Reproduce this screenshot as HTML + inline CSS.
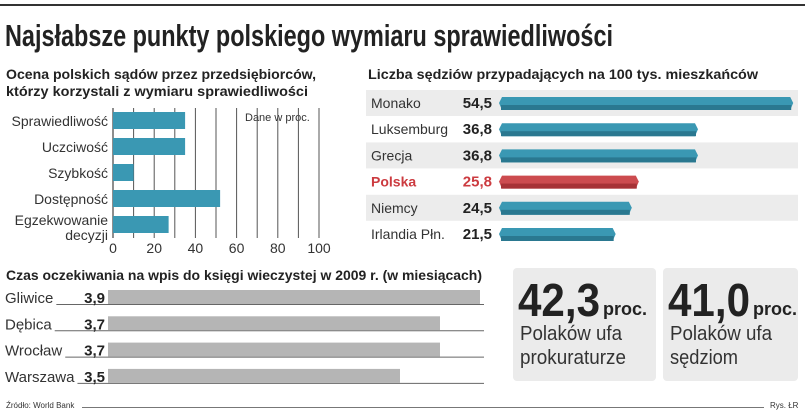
<!DOCTYPE html>
<html><head><meta charset="utf-8"><style>
html,body{margin:0;padding:0;background:#fff;}
svg{display:block;font-family:"Liberation Sans",sans-serif;}
</style></head><body>
<svg width="805" height="416" viewBox="0 0 805 416">
<rect x="0" y="4" width="805" height="2" fill="#333"/>
<text x="5" y="46" font-size="31" font-weight="bold" fill="#222" textLength="608" lengthAdjust="spacingAndGlyphs">Najsłabsze punkty polskiego wymiaru sprawiedliwości</text>

<g id="left">
<text x="6" y="79" font-size="14" font-weight="bold" fill="#222" textLength="310" lengthAdjust="spacingAndGlyphs">Ocena polskich sądów przez przedsiębiorców,</text>
<text x="6" y="96" font-size="14" font-weight="bold" fill="#222" textLength="302" lengthAdjust="spacingAndGlyphs">którzy korzystali z wymiaru sprawiedliwości</text>
<text x="245" y="121" font-size="11" fill="#333">Dane w proc.</text>
</g>

<g id="right">
<text x="368" y="79" font-size="14" font-weight="bold" fill="#222" textLength="390" lengthAdjust="spacingAndGlyphs">Liczba sędziów przypadających na 100 tys. mieszkańców</text>
</g>

<g id="bottom">
<text x="6" y="280" font-size="14" font-weight="bold" fill="#222" textLength="476" lengthAdjust="spacingAndGlyphs">Czas oczekiwania na wpis do księgi wieczystej w 2009 r. (w miesiącach)</text>
</g>

<g>
<rect x="513" y="268" width="143" height="113" rx="4" fill="#ebebeb"/>
<text x="518" y="316" font-size="46" font-weight="bold" fill="#222" textLength="82" lengthAdjust="spacingAndGlyphs">42,3</text>
<text x="603" y="315" font-size="18" font-weight="bold" fill="#222" textLength="44" lengthAdjust="spacingAndGlyphs">proc.</text>
<text x="520" y="340" font-size="20" fill="#333" textLength="102" lengthAdjust="spacingAndGlyphs">Polaków ufa</text>
<text x="520" y="364" font-size="20" fill="#333" textLength="106" lengthAdjust="spacingAndGlyphs">prokuraturze</text>
</g>
<g>
<rect x="663" y="268" width="135" height="113" rx="4" fill="#ebebeb"/>
<text x="668" y="316" font-size="46" font-weight="bold" fill="#222" textLength="82" lengthAdjust="spacingAndGlyphs">41,0</text>
<text x="753" y="315" font-size="18" font-weight="bold" fill="#222" textLength="44" lengthAdjust="spacingAndGlyphs">proc.</text>
<text x="670" y="340" font-size="20" fill="#333" textLength="102" lengthAdjust="spacingAndGlyphs">Polaków ufa</text>
<text x="670" y="364" font-size="20" fill="#333" textLength="68" lengthAdjust="spacingAndGlyphs">sędziom</text>
</g>

<text x="6" y="408" font-size="8" fill="#333">Źródło: World Bank</text>
<rect x="82" y="407" width="682" height="1" fill="#777"/>
<text x="770" y="408" font-size="8" fill="#333">Rys. ŁR</text>
</svg>
<script>
const ratingCats=["Sprawiedliwość","Uczciwość","Szybkość","Dostępność","Egzekwowanie decyzji"];
const ratingVals=[35,35,10,52,27];
const ratingTicks=[0,20,40,60,80,100];
const judgeCats=["Monako","Luksemburg","Grecja","Polska","Niemcy","Irlandia Płn."];
const judgeVals=[54.5,36.8,36.8,25.8,24.5,21.5];
const judgeLabels=["54,5","36,8","36,8","25,8","24,5","21,5"];
const waitCats=["Gliwice","Dębica","Wrocław","Warszawa"];
const waitVals=[3.9,3.7,3.7,3.5];
const waitLabels=["3,9","3,7","3,7","3,5"];

const NS="http://www.w3.org/2000/svg";
function mk(parent,tag,attrs,txt){const e=document.createElementNS(NS,tag);for(const k in attrs)e.setAttribute(k,attrs[k]);if(txt!==undefined)e.textContent=txt;parent.appendChild(e);return e;}

// left chart
const L=document.getElementById('left');
const lx=v=>113+v*2.06;
for(let t=0;t<=100;t+=10){const g=mk(L,'line',{x1:lx(t),x2:lx(t),y1:108,y2:238,stroke:t===0?'#444':'#555','stroke-width':t===0?1.2:1});

}
ratingVals.forEach((v,i)=>{const y=112+i*26;
const r=mk(L,'rect',{x:lx(0),y:y,width:lx(v)-lx(0),height:17,fill:'#3a98b3'});


const c=ratingCats[i];
if(c==="Egzekwowanie decyzji"){
const t1=mk(L,'text',{x:108,y:y+9,'font-size':14,fill:'#333','text-anchor':'end'},"Egzekwowanie");


const t2=mk(L,'text',{x:108,y:y+24,'font-size':14,fill:'#333','text-anchor':'end'},"decyzji");


}else{
const t=mk(L,'text',{x:108,y:y+14,'font-size':14,fill:'#333','text-anchor':'end'},c);

}
});
ratingTicks.forEach(t=>{const e=mk(L,'text',{x:lx(t),y:253,'font-size':14,fill:'#333','text-anchor':'middle'},String(t));

});

// right chart
const R=document.getElementById('right');
const rx=v=>499+v*5.38;
judgeVals.forEach((v,i)=>{const y0=90+i*26.2;
if(i%2===0){const bg=mk(R,'rect',{x:366,y:y0,width:432,height:26,fill:'#ececec'});

}
const pl=judgeCats[i]==="Polska";
const col=pl?'#cc4b4f':'#3a98b3',dark=pl?'#a63236':'#2a7890';
const cy=y0+13;
const b=mk(R,'path',{d:`M${rx(0)+3},${cy-6} L${rx(v)-2},${cy-6} L${rx(v)+1},${cy} L${rx(v)-2},${cy+7} L${rx(0)+3},${cy+7} L${rx(0)},${cy} Z`,fill:col});


const sh=mk(R,'rect',{x:rx(0)+2,y:cy+2,width:rx(v)-rx(0)-3,height:5,fill:dark});


const lb=mk(R,'text',{x:371,y:cy+5,'font-size':14,fill:pl?'#cc3b40':'#333','font-weight':pl?'bold':'normal'},judgeCats[i]);


const vl=mk(R,'text',{x:492,y:cy+5,'font-size':15,'font-weight':'bold',fill:pl?'#cc3b40':'#222','text-anchor':'end'},judgeLabels[i]);


});

// bottom chart
const B=document.getElementById('bottom');
const bx=v=>108+(v-2.04)*200;
waitVals.forEach((v,i)=>{const y=290+i*26.3;
const lb=mk(B,'text',{x:5,y:y+13,'font-size':15,fill:'#333'},waitCats[i]);


let start=60;try{start=5+lb.getComputedTextLength()+3;}catch(e){}
const ln=mk(B,'line',{x1:start,x2:484,y1:y+14.5,y2:y+14.5,stroke:'#666','stroke-width':1});


const r=mk(B,'rect',{x:bx(2.04),y:y,width:bx(v)-bx(2.04),height:14,fill:'#b5b5b5'});


const vl=mk(B,'text',{x:105,y:y+13,'font-size':15,'font-weight':'bold',fill:'#222','text-anchor':'end'},waitLabels[i]);


});
</script>
</body></html>
